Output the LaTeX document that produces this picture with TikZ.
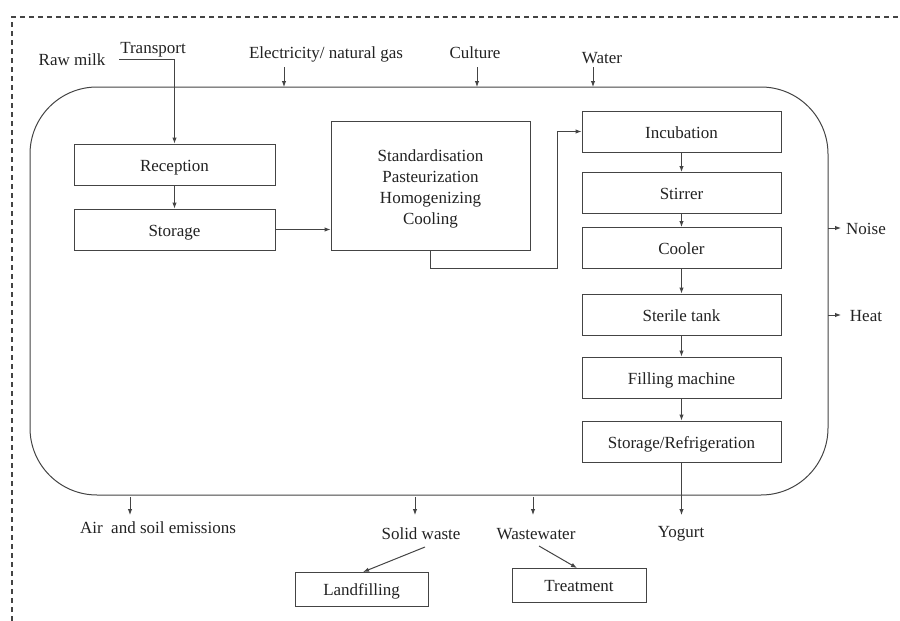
\documentclass[tikz,border=0pt]{standalone}
\usepackage{fontspec}
\setmainfont{Liberation Serif}
\usetikzlibrary{arrows.meta}
\definecolor{ln}{HTML}{444444}
\definecolor{tx}{HTML}{222222}
\begin{document}
\begin{tikzpicture}[x=1pt,y=-1pt,
  every node/.style={font=\fontsize{17}{21}\selectfont, text=tx, text height=15pt, text depth=2pt},
  box/.style={draw=ln, line width=1pt, minimum width=199pt, minimum height=41pt, inner sep=0pt},
  lbl/.style={inner sep=1pt},
  conn/.style={draw=ln, line width=1pt, -{Latex[length=6pt,width=4.5pt]}}]
\useasboundingbox (0,0) rectangle (900,621);
% dashed system boundary
\coordinate (d1) at (12,621);
\coordinate (d2) at (12,17);
\coordinate (d3) at (900,17);
\draw[draw=ln, line width=1.2pt, dash pattern=on 5pt off 4pt] (d1) -- (d2) -- (d3);
% rounded frame
\node[draw=ln, line width=1pt, rounded corners=67pt, minimum width=798pt, minimum height=408pt, inner sep=0pt] (frame) at (429,291) {};
% boxes left
\node[box, minimum width=201pt] (reception) at (174.5,164.5) {Reception};
\node[box, minimum width=201pt] (storage) at (174.5,229.5) {Storage};
\node[box, minimum height=129pt, text height=, text depth=] (proc) at (430.5,185.5)
  {\raisebox{-3pt}[\height][\depth]{\begin{tabular}{@{}c@{}}Standardisation\\Pasteurization\\Homogenizing\\Cooling\end{tabular}}};
% right column
\node[box] (incub) at (681.5,131.5) {Incubation};
\node[box] (stir) at (681.5,193) {Stirrer};
\node[box] (cool) at (681.5,248) {Cooler};
\node[box] (steril) at (681.5,314.5) {Sterile tank};
\node[box] (fill) at (681.5,377.5) {Filling machine};
\node[box] (storef) at (681.5,441.5) {Storage/Refrigeration};
% bottom boxes
\node[box, minimum width=133pt, minimum height=34pt] (landfill) at (361.5,589) {Landfilling};
\node[box, minimum width=134pt, minimum height=34pt] (treat) at (579,585) {Treatment};
% labels
\node[lbl] (raw) at (72,59) {Raw milk};
\node[lbl] (transport) at (153,47) {Transport};
\node[lbl] (elec) at (326,52) {Electricity/ natural gas};
\node[lbl] (culture) at (475,52) {Culture};
\node[lbl] (water) at (602,57) {Water};
\node[lbl] (noise) at (866,228) {Noise};
\node[lbl] (heat) at (866,315) {Heat};
\node[lbl] (air) at (158,527) {Air \ and soil emissions};
\node[lbl] (solid) at (421,533) {Solid waste};
\node[lbl] (ww) at (536,533) {Wastewater};
\node[lbl] (yog) at (681,531) {Yogurt};
% coordinates
\coordinate (t1) at (119,59);
\coordinate (t2) at (174.5,59);
\coordinate (e1) at (284,67); \coordinate (e2) at (284,87);
\coordinate (c1) at (477,67); \coordinate (c2) at (477,87);
\coordinate (w1) at (593,67); \coordinate (w2) at (593,87);
\coordinate (n1) at (828,228); \coordinate (n2) at (841,228);
\coordinate (h1) at (828,315); \coordinate (h2) at (841,315);
\coordinate (a1) at (130,497); \coordinate (a2) at (130,515);
\coordinate (s1) at (415,497); \coordinate (s2) at (415,515);
\coordinate (v1) at (533,497); \coordinate (v2) at (533,515);
\coordinate (y2) at (681.5,515);
\coordinate (p1) at (430.5,268);
\coordinate (p2) at (557,268);
\coordinate (p3) at (557,131.5);
\coordinate (sl1) at (425,547); \coordinate (sl2) at (363,572);
\coordinate (wt1) at (539,546); \coordinate (wt2) at (577,568);
% connectors
\draw[conn] (t1) -- (t2) -- (reception.north);
\draw[conn] (reception) -- (storage);
\draw[conn] (storage.east) -- (proc.west |- storage.east);
\draw[conn] (proc.south -| p1) -- (p1) -- (p2) -- (p3) -- (incub.west);
\draw[conn] (incub) -- (stir);
\draw[conn] (stir) -- (cool);
\draw[conn] (cool) -- (steril);
\draw[conn] (steril) -- (fill);
\draw[conn] (fill) -- (storef);
\draw[conn] (storef.south) -- (y2);
\draw[conn] (e1) -- (e2);
\draw[conn] (c1) -- (c2);
\draw[conn] (w1) -- (w2);
\draw[conn] (n1) -- (n2);
\draw[conn] (h1) -- (h2);
\draw[conn] (a1) -- (a2);
\draw[conn] (s1) -- (s2);
\draw[conn] (v1) -- (v2);
\draw[conn] (sl1) -- (sl2);
\draw[conn] (wt1) -- (wt2);
\end{tikzpicture}
\end{document}
